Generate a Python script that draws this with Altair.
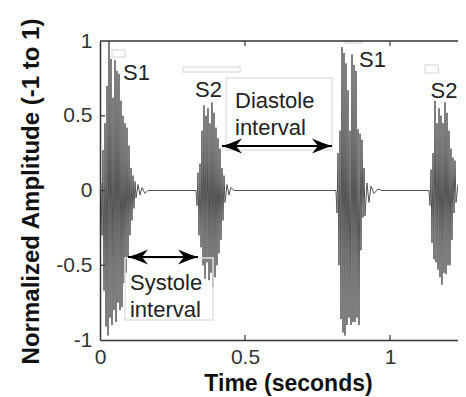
import altair as alt
import pandas as pd

FONT = "Liberation Sans"

# ---------------- waveform (time in s, normalized amplitude) ----------------
s1a_t = [0.0, 0.0034, 0.0069, 0.0103, 0.0138, 0.0172, 0.0207, 0.0241, 0.0276, 0.0310,
         0.0345, 0.0379, 0.0414, 0.0448, 0.0483, 0.0517, 0.0552, 0.0586, 0.0621, 0.0655,
         0.0690, 0.0724, 0.0759, 0.0793, 0.0828, 0.0862, 0.0897, 0.0931, 0.0966, 0.1000,
         0.1034, 0.1069, 0.1103, 0.1138, 0.1172, 0.1207, 0.1241,
         0.1310, 0.1379, 0.1448, 0.1552, 0.1655]
s1a_a = [0.0, 0.05, -0.30, 0.27, -0.67, 0.45, -0.91, 0.70, -0.97, 1.00,
         -0.85, 0.88, -0.90, 0.62, -0.80, 0.87, -0.88, 0.80, -0.75, 0.78,
         -0.80, 0.60, -0.78, 0.50, -0.62, 0.45, -0.55, 0.42, -0.45, 0.30,
         -0.30, 0.15, -0.20, 0.10, -0.12, 0.06, -0.05,
         0.04, -0.03, 0.02, -0.02, 0.0]

s2a_t = [0.3310, 0.3345, 0.3379, 0.3414, 0.3448, 0.3483, 0.3517, 0.3552, 0.3586, 0.3621,
         0.3655, 0.3690, 0.3724, 0.3759, 0.3793, 0.3828, 0.3862, 0.3897, 0.3931, 0.3966,
         0.4000, 0.4034, 0.4069, 0.4103, 0.4138, 0.4172, 0.4207, 0.4241, 0.4276, 0.4310,
         0.4379, 0.4448, 0.4517, 0.4621]
s2a_a = [0.0, -0.10, 0.12, -0.30, 0.18, -0.38, 0.40, -0.50, 0.57, -0.59,
         0.50, -0.48, 0.55, -0.60, 0.45, -0.55, 0.59, -0.65, 0.52, -0.58,
         0.42, -0.50, 0.35, -0.42, 0.28, -0.33, 0.15, -0.20, 0.10, -0.08,
         0.04, -0.03, 0.02, 0.0]

s1b_t = [0.8138, 0.8172, 0.8207, 0.8241, 0.8276, 0.8310, 0.8345, 0.8379, 0.8414, 0.8448,
         0.8483, 0.8517, 0.8552, 0.8586, 0.8621, 0.8655, 0.8690, 0.8724, 0.8759, 0.8793,
         0.8828, 0.8862, 0.8897, 0.8931, 0.8966, 0.9000, 0.9034, 0.9069, 0.9103, 0.9138,
         0.9207, 0.9276, 0.9345, 0.9448, 0.9586, 0.9724]
s1b_a = [0.0, -0.15, 0.25, -0.50, 0.40, -0.86, 0.96, -0.95, 0.92, -0.97,
         0.85, -0.90, 0.67, -0.85, 0.40, -0.90, 0.91, -0.88, 0.84, -0.88,
         0.80, -0.85, 0.41, -0.90, 0.38, -0.40, 0.34, -0.18, 0.15, -0.17,
         0.05, -0.08, 0.03, -0.02, 0.01, 0.0]

s2b_t = [1.1345, 1.1379, 1.1414, 1.1448, 1.1483, 1.1517, 1.1552, 1.1586, 1.1621, 1.1655,
         1.1690, 1.1724, 1.1759, 1.1793, 1.1828, 1.1862, 1.1897, 1.1931, 1.1966, 1.2000,
         1.2034, 1.2069, 1.2103, 1.2138, 1.2172, 1.2207, 1.2241, 1.2276,
         1.2345, 1.2414, 1.2483, 1.2621]
s2b_a = [0.0, -0.10, 0.14, -0.35, 0.25, -0.46, 0.60, -0.48, 0.45, -0.53,
         0.55, -0.58, 0.50, -0.63, 0.45, -0.55, 0.59, -0.56, 0.52, -0.50,
         0.40, -0.50, 0.28, -0.33, 0.22, -0.15, 0.20, -0.08,
         0.04, -0.05, 0.03, 0.0]

# ---------------- axes ----------------
x_ticks = [0, 0.5, 1]
y_ticks = [-1, -0.5, 0, 0.5, 1]
x_inner_ticks = [0.5, 1]
y_inner_ticks = [-0.5, 0, 0.5]

# ---------------- annotations ----------------
label_text = ["S1", "S2", "Diastole", "interval", "S1", "S2", "Systole", "interval"]
label_t = [0.0793, 0.328, 0.4655, 0.4655, 0.893, 1.140, 0.1034, 0.1034]
label_a = [0.739, 0.625, 0.552, 0.371, 0.826, 0.619, -0.666, -0.846]

arrow_t0 = [0.0966, 0.4207]
arrow_t1 = [0.338, 0.800]
arrow_a = [-0.445, 0.298]

box_t0 = [0.0862, 0.4345, 0.0414, 0.286, 0.845, 1.121]
box_t1 = [0.3897, 0.800, 0.0862, 0.483, 0.903, 1.166]
box_a0 = [-0.452, 0.752, 0.94, 0.826, 1.0, 0.839]
box_a1 = [-0.866, 0.27, 0.893, 0.793, 0.987, 0.786]

# ---------------- build ----------------
frames = [pd.DataFrame({"t": t, "a": a}) for t, a in
          [(s1a_t, s1a_a), (s2a_t, s2a_a), (s1b_t, s1b_a), (s2b_t, s2b_a)]]
wave = pd.concat(frames, ignore_index=True)
wave["i"] = range(len(wave))

W, H = 358, 299
XMAX = 1.2345
xs = alt.Scale(domain=[0, XMAX], nice=False, zero=False)
ys = alt.Scale(domain=[-1, 1], nice=False, zero=False)

x_axis = alt.Axis(values=x_ticks, labelExpr="'' + datum.value", ticks=False, grid=False,
                  domainColor="#333", domainWidth=1.5, labelFontSize=21, labelColor="#333",
                  labelFont=FONT, labelPadding=6, labelFlush=False, labelOverlap=False,
                  title="Time (seconds)", titleFont=FONT, titleFontSize=23,
                  titleFontWeight="bold", titleColor="#111", titleX=188, titleY=50,
                  titleBaseline="alphabetic", titleAlign="center")
y_axis = alt.Axis(values=y_ticks, labelExpr="'' + datum.value", ticks=False, grid=False,
                  domainColor="#333", domainWidth=1.5, labelFontSize=21, labelColor="#333",
                  labelFont=FONT, labelPadding=8, labelFlush=False, labelOverlap=False,
                  title="Normalized Amplitude (-1 to 1)", titleFont=FONT, titleFontSize=24,
                  titleFontWeight="bold", titleColor="#111", titleX=-62, titleY=150,
                  titleAngle=270, titleBaseline="alphabetic", titleAlign="center")


def X(field):
    return alt.X(field, scale=xs, axis=x_axis)


def Y(field):
    return alt.Y(field, scale=ys, axis=y_axis)


line = alt.Chart(wave).mark_line(color="#555", strokeWidth=1, clip=True, strokeJoin="round").encode(
    x=X("t:Q"), y=Y("a:Q"), order="i:Q")

boxes = alt.Chart(pd.DataFrame({"t0": box_t0, "t1": box_t1, "a0": box_a0, "a1": box_a1})).mark_rect(
    filled=False, stroke="#e2e2e2", strokeWidth=1.5).encode(
    x=X("t0:Q"), x2="t1:Q", y=Y("a0:Q"), y2="a1:Q")

left_ticks = alt.Chart(pd.DataFrame({"v": y_inner_ticks})).mark_rule(color="#333", strokeWidth=1.2).encode(
    y=Y("v:Q"), x=alt.value(0), x2=alt.value(5))
bottom_ticks = alt.Chart(pd.DataFrame({"v": x_inner_ticks})).mark_rule(color="#333", strokeWidth=1.2).encode(
    x=X("v:Q"), y=alt.value(H), y2=alt.value(H - 5))
top_ticks = alt.Chart(pd.DataFrame({"v": x_inner_ticks})).mark_rule(color="#333", strokeWidth=1.2).encode(
    x=X("v:Q"), y=alt.value(0), y2=alt.value(5))
top_border = alt.Chart(pd.DataFrame({"z": [0]})).mark_rule(color="#333", strokeWidth=1.5).encode(
    x=alt.value(0), x2=alt.value(W), y=alt.value(0))

arrows_df = pd.DataFrame({"t0": arrow_t0, "t1": arrow_t1, "a": arrow_a})
shafts = alt.Chart(arrows_df).mark_rule(color="black", strokeWidth=2).encode(
    x=X("t0:Q"), x2="t1:Q", y=Y("a:Q"))
LEFT_HEAD = "M -1 0 Q 0 -0.3 1 -0.75 L 0.4 0 L 1 0.75 Q 0 0.3 -1 0 Z"
RIGHT_HEAD = "M 1 0 Q 0 -0.3 -1 -0.75 L -0.4 0 L -1 0.75 Q 0 0.3 1 0 Z"
lheads = alt.Chart(arrows_df).mark_point(shape=LEFT_HEAD, size=400, filled=True, color="black",
                                         opacity=1, xOffset=10).encode(x=X("t0:Q"), y=Y("a:Q"))
rheads = alt.Chart(arrows_df).mark_point(shape=RIGHT_HEAD, size=400, filled=True, color="black",
                                         opacity=1, xOffset=-10).encode(x=X("t1:Q"), y=Y("a:Q"))

texts = alt.Chart(pd.DataFrame({"t": label_t, "a": label_a, "txt": label_text})).mark_text(
    align="left", baseline="alphabetic", fontSize=22, font=FONT, color="#222").encode(
    x=X("t:Q"), y=Y("a:Q"), text="txt:N")

chart = alt.layer(line, boxes, left_ticks, bottom_ticks, top_ticks, top_border,
                  shafts, lheads, rheads, texts).properties(
    width=W, height=H,
    autosize=alt.AutoSizeParams(type="none"),
    padding={"left": 92, "top": 33, "right": 0, "bottom": 57},
).configure(font=FONT).configure_view(stroke=None)

chart.save("out.html", embed_options={"renderer": "svg", "actions": False})
